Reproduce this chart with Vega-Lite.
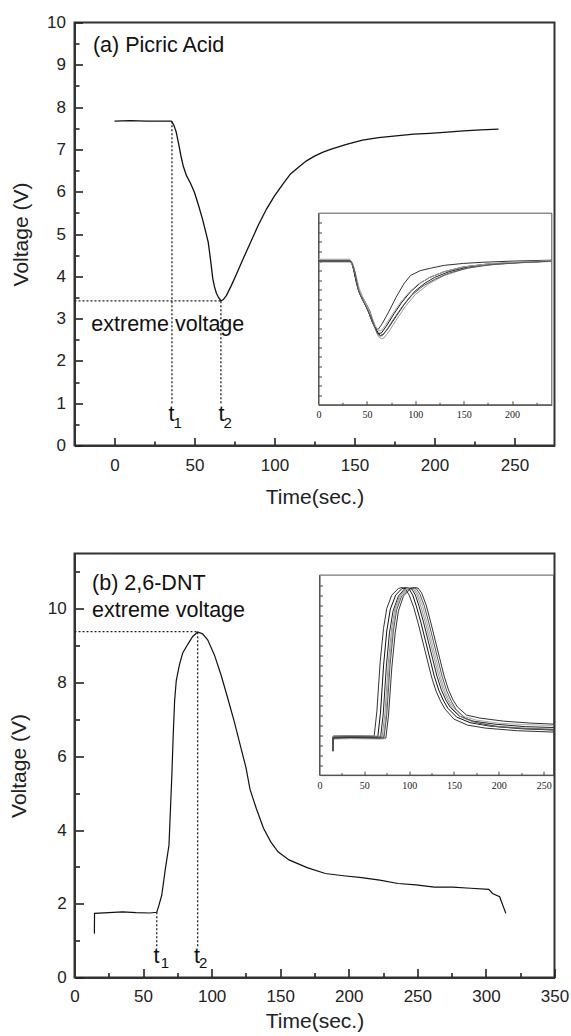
{
  "$schema": "https://vega.github.io/schema/vega-lite/v6.json",
  "background": "white",
  "padding": {"left": 6.5, "top": 12.5, "right": 0, "bottom": 0},
  "bounds": "flush",
  "spacing": 108,
  "config": {
    "font": "Liberation Sans",
    "view": {"stroke": "#333", "strokeWidth": 2},
    "axis": {"grid": false, "labelFont": "Liberation Sans", "titleFont": "Liberation Sans", "titleFontWeight": "normal", "labelOverlap": false, "labelFlush": false}
  },
  "datasets": {
    "mainA": [
      {"t":0,"v":7.67},{"t":10,"v":7.68},{"t":20,"v":7.67},{"t":30,"v":7.67},{"t":35.5,"v":7.67},{"t":37,"v":7.58},{"t":38.5,"v":7.42},{"t":40,"v":7.15},{"t":41.5,"v":6.85},{"t":43,"v":6.6},{"t":45,"v":6.38},{"t":47.5,"v":6.2},{"t":50,"v":5.98},{"t":52.5,"v":5.68},{"t":55,"v":5.35},{"t":57,"v":5.05},{"t":58.6,"v":4.8},{"t":60,"v":4.4},{"t":61.4,"v":3.95},{"t":62.5,"v":3.75},{"t":63.7,"v":3.6},{"t":65,"v":3.5},{"t":66.5,"v":3.42},{"t":68,"v":3.45},{"t":70,"v":3.55},{"t":73,"v":3.78},{"t":76,"v":4.03},{"t":80,"v":4.38},{"t":85,"v":4.8},{"t":90,"v":5.22},{"t":95,"v":5.59},{"t":100,"v":5.9},{"t":105,"v":6.17},{"t":110,"v":6.42},{"t":115,"v":6.58},{"t":120,"v":6.73},{"t":125,"v":6.84},{"t":130,"v":6.93},{"t":135,"v":7.0},{"t":145,"v":7.12},{"t":155,"v":7.22},{"t":165,"v":7.28},{"t":176,"v":7.32},{"t":187,"v":7.36},{"t":197,"v":7.38},{"t":208,"v":7.41},{"t":218,"v":7.44},{"t":229,"v":7.46},{"t":240,"v":7.48}
    ],
    "mainB": [
      {"t":14.5,"v":1.19},{"t":14.6,"v":1.74},{"t":25,"v":1.76},{"t":35,"v":1.78},{"t":45,"v":1.76},{"t":55,"v":1.75},{"t":60,"v":1.77},{"t":61.5,"v":1.95},{"t":63.6,"v":2.23},{"t":66.3,"v":2.96},{"t":68.9,"v":3.59},{"t":70,"v":4.6},{"t":71,"v":5.5},{"t":72,"v":6.6},{"t":73,"v":7.5},{"t":74.2,"v":8.05},{"t":76.5,"v":8.48},{"t":78.9,"v":8.8},{"t":82.5,"v":9.03},{"t":86.2,"v":9.25},{"t":89.8,"v":9.37},{"t":93.4,"v":9.32},{"t":97.1,"v":9.16},{"t":102,"v":8.75},{"t":106.8,"v":8.21},{"t":111.7,"v":7.58},{"t":116.5,"v":6.94},{"t":121.4,"v":6.22},{"t":125,"v":5.7},{"t":128,"v":5.1},{"t":132.5,"v":4.59},{"t":137.8,"v":4.05},{"t":143.1,"v":3.68},{"t":148.4,"v":3.41},{"t":156.4,"v":3.19},{"t":169.6,"v":2.98},{"t":182.9,"v":2.82},{"t":196.1,"v":2.76},{"t":209.4,"v":2.71},{"t":222.6,"v":2.64},{"t":235.9,"v":2.55},{"t":249.1,"v":2.51},{"t":262.4,"v":2.45},{"t":275.6,"v":2.45},{"t":288.9,"v":2.42},{"t":302.1,"v":2.39},{"t":304.8,"v":2.28},{"t":310,"v":2.19},{"t":314.5,"v":1.74}
    ],
    "rulesA": [
      {"t":35.9,"t2":35.9,"v":1.0,"v2":7.67},
      {"t":66.5,"t2":66.5,"v":1.0,"v2":3.42},
      {"t":-25,"t2":66.5,"v":3.42,"v2":3.42}
    ],
    "rulesB": [
      {"t":60,"t2":60,"v":0.85,"v2":1.77},
      {"t":89.8,"t2":89.8,"v":0.85,"v2":9.37},
      {"t":0,"t2":89.8,"v":9.38,"v2":9.38}
    ],
    "labA": [
      {"t":-13.5,"v":9.31,"s":"(a) Picric Acid"},
      {"t":-14.5,"v":2.7,"s":"extreme voltage"},
      {"t":33.8,"v":0.59,"s":"t"},
      {"t":65.0,"v":0.59,"s":"t"}
    ],
    "subA": [
      {"t":36.9,"v":0.41,"s":"1"},
      {"t":68.1,"v":0.41,"s":"2"}
    ],
    "labB": [
      {"t":12.8,"v":10.52,"s":"(b) 2,6-DNT"},
      {"t":12.8,"v":9.79,"s":"extreme voltage"},
      {"t":57.6,"v":0.39,"s":"t"},
      {"t":87.2,"v":0.39,"s":"t"}
    ],
    "subB": [
      {"t":62.9,"v":0.25,"s":"1"},
      {"t":90.8,"v":0.25,"s":"2"}
    ],
    "frameA": [{"t":0,"t2":241,"v":0,"v2":10}],
    "frameB": [{"t":0,"t2":261,"v":0,"v2":10}],
    "insetA": [
      {"r":"a1","t":0,"v":7.55},{"r":"a1","t":32,"v":7.55},{"r":"a1","t":34,"v":7.45},{"r":"a1","t":36,"v":7.1},{"r":"a1","t":39,"v":6.4},{"r":"a1","t":42,"v":5.85},{"r":"a1","t":46,"v":5.45},{"r":"a1","t":51,"v":4.95},{"r":"a1","t":56,"v":4.25},{"r":"a1","t":60,"v":3.95},{"r":"a1","t":62,"v":3.95},{"r":"a1","t":66,"v":4.25},{"r":"a1","t":72,"v":4.8},{"r":"a1","t":80,"v":5.6},{"r":"a1","t":88,"v":6.3},{"r":"a1","t":95,"v":6.75},{"r":"a1","t":105,"v":7.0},{"r":"a1","t":115,"v":7.12},{"r":"a1","t":130,"v":7.28},{"r":"a1","t":150,"v":7.38},{"r":"a1","t":170,"v":7.44},{"r":"a1","t":200,"v":7.5},{"r":"a1","t":241,"v":7.55},
      {"r":"a2","t":0,"v":7.5},{"r":"a2","t":33,"v":7.5},{"r":"a2","t":35,"v":7.35},{"r":"a2","t":37,"v":7.0},{"r":"a2","t":40,"v":6.3},{"r":"a2","t":43,"v":5.75},{"r":"a2","t":47,"v":5.35},{"r":"a2","t":52,"v":4.8},{"r":"a2","t":57,"v":4.15},{"r":"a2","t":60,"v":3.9},{"r":"a2","t":62,"v":3.72},{"r":"a2","t":65,"v":3.75},{"r":"a2","t":70,"v":4.1},{"r":"a2","t":78,"v":4.75},{"r":"a2","t":86,"v":5.35},{"r":"a2","t":95,"v":5.9},{"r":"a2","t":105,"v":6.35},{"r":"a2","t":115,"v":6.65},{"r":"a2","t":130,"v":6.95},{"r":"a2","t":150,"v":7.2},{"r":"a2","t":175,"v":7.35},{"r":"a2","t":200,"v":7.42},{"r":"a2","t":241,"v":7.5},
      {"r":"a3","t":0,"v":7.48},{"r":"a3","t":33,"v":7.48},{"r":"a3","t":35,"v":7.3},{"r":"a3","t":37,"v":6.9},{"r":"a3","t":40,"v":6.2},{"r":"a3","t":44,"v":5.7},{"r":"a3","t":48,"v":5.4},{"r":"a3","t":53,"v":4.9},{"r":"a3","t":58,"v":4.1},{"r":"a3","t":61,"v":3.75},{"r":"a3","t":64,"v":3.62},{"r":"a3","t":67,"v":3.68},{"r":"a3","t":72,"v":4.0},{"r":"a3","t":80,"v":4.6},{"r":"a3","t":90,"v":5.35},{"r":"a3","t":100,"v":5.95},{"r":"a3","t":110,"v":6.35},{"r":"a3","t":120,"v":6.65},{"r":"a3","t":135,"v":6.95},{"r":"a3","t":155,"v":7.2},{"r":"a3","t":180,"v":7.35},{"r":"a3","t":210,"v":7.43},{"r":"a3","t":241,"v":7.5},
      {"r":"a4","t":0,"v":7.45},{"r":"a4","t":33,"v":7.45},{"r":"a4","t":35.5,"v":7.25},{"r":"a4","t":38,"v":6.8},{"r":"a4","t":41,"v":6.1},{"r":"a4","t":45,"v":5.55},{"r":"a4","t":49,"v":5.2},{"r":"a4","t":54,"v":4.6},{"r":"a4","t":59,"v":3.9},{"r":"a4","t":62,"v":3.55},{"r":"a4","t":65,"v":3.45},{"r":"a4","t":68,"v":3.5},{"r":"a4","t":73,"v":3.85},{"r":"a4","t":80,"v":4.4},{"r":"a4","t":90,"v":5.15},{"r":"a4","t":100,"v":5.75},{"r":"a4","t":115,"v":6.35},{"r":"a4","t":130,"v":6.75},{"r":"a4","t":150,"v":7.08},{"r":"a4","t":170,"v":7.27},{"r":"a4","t":200,"v":7.4},{"r":"a4","t":241,"v":7.48},
      {"r":"a5","t":0,"v":7.6},{"r":"a5","t":32,"v":7.6},{"r":"a5","t":34,"v":7.5},{"r":"a5","t":36.5,"v":7.2},{"r":"a5","t":39,"v":6.7},{"r":"a5","t":42,"v":6.1},{"r":"a5","t":46,"v":5.6},{"r":"a5","t":50,"v":5.2},{"r":"a5","t":55,"v":4.6},{"r":"a5","t":59,"v":4.1},{"r":"a5","t":62,"v":3.85},{"r":"a5","t":65,"v":3.88},{"r":"a5","t":69,"v":4.15},{"r":"a5","t":76,"v":4.7},{"r":"a5","t":84,"v":5.3},{"r":"a5","t":93,"v":5.85},{"r":"a5","t":103,"v":6.3},{"r":"a5","t":115,"v":6.65},{"r":"a5","t":130,"v":6.95},{"r":"a5","t":150,"v":7.2},{"r":"a5","t":180,"v":7.38},{"r":"a5","t":241,"v":7.53},
      {"r":"a6","t":0,"v":7.52},{"r":"a6","t":33,"v":7.52},{"r":"a6","t":35,"v":7.38},{"r":"a6","t":38,"v":6.85},{"r":"a6","t":41,"v":6.0},{"r":"a6","t":45,"v":5.5},{"r":"a6","t":49,"v":5.15},{"r":"a6","t":54,"v":4.6},{"r":"a6","t":58,"v":4.05},{"r":"a6","t":61,"v":3.7},{"r":"a6","t":63.5,"v":3.58},{"r":"a6","t":66,"v":3.62},{"r":"a6","t":71,"v":3.95},{"r":"a6","t":78,"v":4.5},{"r":"a6","t":87,"v":5.15},{"r":"a6","t":97,"v":5.75},{"r":"a6","t":108,"v":6.2},{"r":"a6","t":120,"v":6.55},{"r":"a6","t":135,"v":6.88},{"r":"a6","t":155,"v":7.15},{"r":"a6","t":180,"v":7.32},{"r":"a6","t":210,"v":7.42},{"r":"a6","t":241,"v":7.5}
    ],
    "insetB": [
      {"r":"b1","t":15,"v":1.2},{"r":"b1","t":15.2,"v":1.95},{"r":"b1","t":35,"v":1.98},{"r":"b1","t":61,"v":1.95},{"r":"b1","t":64,"v":3.2},{"r":"b1","t":67.7,"v":5.67},{"r":"b1","t":71.4,"v":7.33},{"r":"b1","t":75,"v":8.33},{"r":"b1","t":80.6,"v":9.0},{"r":"b1","t":88,"v":9.33},{"r":"b1","t":92,"v":9.38},{"r":"b1","t":96,"v":9.3},{"r":"b1","t":100,"v":9.0},{"r":"b1","t":105,"v":8.4},{"r":"b1","t":110,"v":7.6},{"r":"b1","t":115,"v":6.7},{"r":"b1","t":120,"v":5.8},{"r":"b1","t":125,"v":4.9},{"r":"b1","t":130,"v":4.2},{"r":"b1","t":135,"v":3.7},{"r":"b1","t":140,"v":3.3},{"r":"b1","t":150,"v":2.8},{"r":"b1","t":165,"v":2.5},{"r":"b1","t":185,"v":2.35},{"r":"b1","t":220,"v":2.22},{"r":"b1","t":261,"v":2.15},
      {"r":"b2","t":15,"v":1.2},{"r":"b2","t":15.2,"v":1.9},{"r":"b2","t":35,"v":1.92},{"r":"b2","t":65,"v":1.9},{"r":"b2","t":68,"v":3.1},{"r":"b2","t":71.5,"v":5.5},{"r":"b2","t":75,"v":7.2},{"r":"b2","t":79,"v":8.3},{"r":"b2","t":85,"v":9.0},{"r":"b2","t":92,"v":9.33},{"r":"b2","t":96,"v":9.38},{"r":"b2","t":100,"v":9.3},{"r":"b2","t":104,"v":9.0},{"r":"b2","t":108,"v":8.45},{"r":"b2","t":113,"v":7.65},{"r":"b2","t":118,"v":6.75},{"r":"b2","t":123,"v":5.85},{"r":"b2","t":128,"v":4.95},{"r":"b2","t":133,"v":4.25},{"r":"b2","t":138,"v":3.75},{"r":"b2","t":143,"v":3.35},{"r":"b2","t":153,"v":2.9},{"r":"b2","t":168,"v":2.62},{"r":"b2","t":190,"v":2.45},{"r":"b2","t":225,"v":2.32},{"r":"b2","t":261,"v":2.25},
      {"r":"b3","t":15,"v":1.2},{"r":"b3","t":15.2,"v":1.85},{"r":"b3","t":35,"v":1.88},{"r":"b3","t":68,"v":1.85},{"r":"b3","t":71,"v":3.0},{"r":"b3","t":74.5,"v":5.4},{"r":"b3","t":78,"v":7.1},{"r":"b3","t":82,"v":8.2},{"r":"b3","t":88,"v":8.95},{"r":"b3","t":95,"v":9.32},{"r":"b3","t":99,"v":9.38},{"r":"b3","t":103,"v":9.3},{"r":"b3","t":107,"v":9.0},{"r":"b3","t":111,"v":8.45},{"r":"b3","t":116,"v":7.65},{"r":"b3","t":121,"v":6.75},{"r":"b3","t":126,"v":5.85},{"r":"b3","t":131,"v":4.95},{"r":"b3","t":136,"v":4.25},{"r":"b3","t":141,"v":3.75},{"r":"b3","t":146,"v":3.38},{"r":"b3","t":156,"v":2.95},{"r":"b3","t":171,"v":2.7},{"r":"b3","t":195,"v":2.55},{"r":"b3","t":230,"v":2.42},{"r":"b3","t":261,"v":2.38},
      {"r":"b4","t":15,"v":1.2},{"r":"b4","t":15.2,"v":1.95},{"r":"b4","t":35,"v":1.97},{"r":"b4","t":70,"v":1.95},{"r":"b4","t":73,"v":3.1},{"r":"b4","t":76.7,"v":5.6},{"r":"b4","t":80.4,"v":7.3},{"r":"b4","t":84,"v":8.3},{"r":"b4","t":89.6,"v":9.0},{"r":"b4","t":97,"v":9.33},{"r":"b4","t":101,"v":9.38},{"r":"b4","t":105,"v":9.3},{"r":"b4","t":109,"v":9.0},{"r":"b4","t":113,"v":8.45},{"r":"b4","t":118,"v":7.65},{"r":"b4","t":123,"v":6.75},{"r":"b4","t":128,"v":5.85},{"r":"b4","t":133,"v":4.95},{"r":"b4","t":138,"v":4.25},{"r":"b4","t":143,"v":3.75},{"r":"b4","t":148,"v":3.35},{"r":"b4","t":158,"v":2.9},{"r":"b4","t":173,"v":2.62},{"r":"b4","t":195,"v":2.45},{"r":"b4","t":230,"v":2.35},{"r":"b4","t":261,"v":2.3},
      {"r":"b5","t":15,"v":1.2},{"r":"b5","t":15.2,"v":1.8},{"r":"b5","t":35,"v":1.82},{"r":"b5","t":71,"v":1.8},{"r":"b5","t":74,"v":3.0},{"r":"b5","t":77.7,"v":5.5},{"r":"b5","t":81.4,"v":7.25},{"r":"b5","t":85,"v":8.3},{"r":"b5","t":90.6,"v":9.0},{"r":"b5","t":98,"v":9.33},{"r":"b5","t":102,"v":9.38},{"r":"b5","t":106,"v":9.32},{"r":"b5","t":110,"v":9.05},{"r":"b5","t":115,"v":8.45},{"r":"b5","t":120,"v":7.6},{"r":"b5","t":125,"v":6.7},{"r":"b5","t":130,"v":5.8},{"r":"b5","t":135,"v":4.9},{"r":"b5","t":140,"v":4.2},{"r":"b5","t":145,"v":3.7},{"r":"b5","t":150,"v":3.35},{"r":"b5","t":160,"v":2.95},{"r":"b5","t":175,"v":2.75},{"r":"b5","t":200,"v":2.6},{"r":"b5","t":230,"v":2.52},{"r":"b5","t":261,"v":2.48},
      {"r":"b6","t":15,"v":1.2},{"r":"b6","t":15.2,"v":1.9},{"r":"b6","t":35,"v":1.92},{"r":"b6","t":72,"v":1.9},{"r":"b6","t":75,"v":3.0},{"r":"b6","t":78.7,"v":5.5},{"r":"b6","t":82.4,"v":7.2},{"r":"b6","t":86,"v":8.25},{"r":"b6","t":91.6,"v":8.95},{"r":"b6","t":99,"v":9.3},{"r":"b6","t":104,"v":9.38},{"r":"b6","t":108,"v":9.32},{"r":"b6","t":112,"v":9.05},{"r":"b6","t":117,"v":8.45},{"r":"b6","t":122,"v":7.6},{"r":"b6","t":127,"v":6.7},{"r":"b6","t":132,"v":5.8},{"r":"b6","t":137,"v":4.9},{"r":"b6","t":142,"v":4.2},{"r":"b6","t":147,"v":3.7},{"r":"b6","t":152,"v":3.3},{"r":"b6","t":162,"v":2.85},{"r":"b6","t":177,"v":2.6},{"r":"b6","t":200,"v":2.42},{"r":"b6","t":230,"v":2.32},{"r":"b6","t":261,"v":2.28},
      {"r":"b7","t":15,"v":1.2},{"r":"b7","t":15.2,"v":1.85},{"r":"b7","t":35,"v":1.87},{"r":"b7","t":74,"v":1.85},{"r":"b7","t":77,"v":3.0},{"r":"b7","t":80.7,"v":5.4},{"r":"b7","t":84.4,"v":7.1},{"r":"b7","t":88,"v":8.2},{"r":"b7","t":93.6,"v":8.95},{"r":"b7","t":101,"v":9.3},{"r":"b7","t":106,"v":9.38},{"r":"b7","t":110,"v":9.35},{"r":"b7","t":114,"v":9.1},{"r":"b7","t":119,"v":8.5},{"r":"b7","t":124,"v":7.65},{"r":"b7","t":129,"v":6.75},{"r":"b7","t":134,"v":5.85},{"r":"b7","t":139,"v":4.95},{"r":"b7","t":144,"v":4.25},{"r":"b7","t":149,"v":3.75},{"r":"b7","t":154,"v":3.4},{"r":"b7","t":164,"v":3.0},{"r":"b7","t":179,"v":2.85},{"r":"b7","t":205,"v":2.7},{"r":"b7","t":235,"v":2.6},{"r":"b7","t":261,"v":2.55}
    ]
  },
  "vconcat": [
    {
      "width": 480,
      "height": 423,
      "resolve": {"scale": {"x": "independent", "y": "independent"}},
      "layer": [
        {
          "encoding": {
            "x": {"field": "t", "type": "quantitative",
              "scale": {"domain": [-25, 275], "nice": false, "zero": false},
              "axis": {"title": "Time(sec.)", "orient": "bottom", "values": [0,25,50,75,100,125,150,175,200,225,250],
                "labelExpr": "datum.value % 50 === 0 ? format(datum.value, 'd') : ''",
                "ticks": true, "tickSize": {"condition": {"test": "datum.value % 50 === 0", "value": -8}, "value": -4.5},
                "tickColor": "#222", "tickWidth": 1.6,
                "labelPadding": 20, "titlePadding": 9.5, "labelFontSize": 17, "titleFontSize": 21,
                "domainWidth": 2, "domainColor": "#333", "labelColor": "#222", "titleColor": "#222", "grid": false}},
            "y": {"field": "v", "type": "quantitative",
              "scale": {"domain": [0, 10], "nice": false, "zero": false},
              "axis": {"title": "Voltage (V)", "orient": "left", "values": [0,0.5,1,1.5,2,2.5,3,3.5,4,4.5,5,5.5,6,6.5,7,7.5,8,8.5,9,9.5,10],
                "labelExpr": "datum.value % 1 === 0 ? format(datum.value, 'd') : ''",
                "ticks": true, "tickSize": {"condition": {"test": "datum.value % 1 === 0", "value": -8}, "value": -4.5},
                "tickColor": "#222", "tickWidth": 1.6,
                "labelPadding": 17, "titlePadding": 15.5, "labelFontSize": 17, "titleFontSize": 21,
                "domainWidth": 2, "domainColor": "#333", "labelColor": "#222", "titleColor": "#222", "grid": false}}
          },
          "layer": [
            {"data": {"name": "mainA"}, "mark": {"type": "line", "color": "#111", "strokeWidth": 1.3}},
            {"data": {"name": "rulesA"}, "mark": {"type": "rule", "color": "#222", "strokeWidth": 1.3, "strokeDash": [2, 2]},
              "encoding": {"x2": {"field": "t2"}, "y2": {"field": "v2"}}},
            {"data": {"name": "labA"}, "mark": {"type": "text", "align": "left", "baseline": "alphabetic", "fontSize": 21.5, "color": "#111"},
              "encoding": {"text": {"field": "s"}}},
            {"data": {"name": "subA"}, "mark": {"type": "text", "align": "left", "baseline": "alphabetic", "fontSize": 15, "color": "#111"},
              "encoding": {"text": {"field": "s"}}}
          ]
        },
        {
          "encoding": {
            "x": {"field": "t", "type": "quantitative",
              "scale": {"domain": [0, 241], "range": [244, 477.3], "nice": false, "zero": false},
              "axis": {"orient": "bottom", "offset": -40.7, "title": null, "values": [0,50,100,150,200], "format": "d",
                "ticks": false, "labelPadding": 5, "labelFont": "Liberation Serif", "labelFontSize": 10,
                "domainColor": "#444", "domainWidth": 1, "labelColor": "#222", "grid": false}},
            "y": {"field": "v", "type": "quantitative",
              "scale": {"domain": [0, 10], "range": [382.3, 190.7], "nice": false, "zero": false},
              "axis": {"orient": "left", "offset": -244, "title": null, "labels": false, "ticks": false,
                "domainColor": "#444", "domainWidth": 1, "grid": false}}
          },
          "layer": [
            {"data": {"name": "frameA"}, "mark": {"type": "rect", "fill": "transparent", "stroke": "#555", "strokeWidth": 1},
              "encoding": {"x2": {"field": "t2"}, "y2": {"field": "v2"}}},
            {"data": {"name": "insetA"}, "mark": {"type": "line", "strokeWidth": 1},
              "encoding": {"color": {"field": "r", "type": "nominal", "legend": null,
                "scale": {"range": ["#333", "#111", "#222", "#999", "#aaa", "#555"]}}}}
          ]
        },
        {
          "data": {"name": "frameA"},
          "mark": {"type": "point", "opacity": 0},
          "encoding": {
            "x": {"field": "t", "type": "quantitative",
              "scale": {"domain": [0, 241], "range": [244, 477.3], "nice": false, "zero": false},
              "axis": {"orient": "top", "offset": -382.3, "title": null, "values": [25,50,75,100,125,150,175,200,225],
                "tickSize": {"condition": {"test": "datum.value % 50 === 0", "value": 4}, "value": 2.5},
                "labels": false, "domain": false, "tickColor": "#444", "tickWidth": 1, "grid": false}},
            "y": {"field": "v", "type": "quantitative",
              "scale": {"domain": [0, 10], "range": [382.3, 190.7], "nice": false, "zero": false},
              "axis": {"orient": "right", "offset": -236, "title": null, "labels": false, "domain": false,
                "values": [0.5,1,1.5,2,2.5,3,3.5,4,4.5,5,5.5,6,6.5,7,7.5,8,8.5,9,9.5],
                "tickSize": 3, "tickColor": "#444", "tickWidth": 1, "grid": false}}
          }
        }
      ]
    },
    {
      "width": 480,
      "height": 424,
      "resolve": {"scale": {"x": "independent", "y": "independent"}},
      "layer": [
        {
          "encoding": {
            "x": {"field": "t", "type": "quantitative",
              "scale": {"domain": [0, 350], "nice": false, "zero": false},
              "axis": {"title": "Time(sec.)", "orient": "bottom", "values": [0,25,50,75,100,125,150,175,200,225,250,275,300,325,350],
                "labelExpr": "datum.value % 50 === 0 ? format(datum.value, 'd') : ''",
                "ticks": true, "tickSize": {"condition": {"test": "datum.value % 50 === 0", "value": -9}, "value": -5},
                "tickColor": "#222", "tickWidth": 1.6,
                "labelPadding": 20, "titlePadding": 2, "labelFontSize": 17, "titleFontSize": 21,
                "domainWidth": 2, "domainColor": "#333", "labelColor": "#222", "titleColor": "#222", "grid": false}},
            "y": {"field": "v", "type": "quantitative",
              "scale": {"domain": [0, 11.5], "nice": false, "zero": false},
              "axis": {"title": "Voltage (V)", "orient": "left", "values": [0,1,2,3,4,5,6,7,8,9,10,11],
                "labelExpr": "datum.value % 2 === 0 ? format(datum.value, 'd') : ''",
                "ticks": true, "tickSize": {"condition": {"test": "datum.value % 2 === 0", "value": -9}, "value": -5},
                "tickColor": "#222", "tickWidth": 1.6,
                "labelPadding": 17.4, "titlePadding": 18, "labelFontSize": 17, "titleFontSize": 21,
                "domainWidth": 2, "domainColor": "#333", "labelColor": "#222", "titleColor": "#222", "grid": false}}
          },
          "layer": [
            {"data": {"name": "mainB"}, "mark": {"type": "line", "color": "#111", "strokeWidth": 1.2}},
            {"data": {"name": "rulesB"}, "mark": {"type": "rule", "color": "#222", "strokeWidth": 1.3, "strokeDash": [2, 2]},
              "encoding": {"x2": {"field": "t2"}, "y2": {"field": "v2"}}},
            {"data": {"name": "labB"}, "mark": {"type": "text", "align": "left", "baseline": "alphabetic", "fontSize": 21.5, "color": "#111"},
              "encoding": {"text": {"field": "s"}}},
            {"data": {"name": "subB"}, "mark": {"type": "text", "align": "left", "baseline": "alphabetic", "fontSize": 15, "color": "#111"},
              "encoding": {"text": {"field": "s"}}}
          ]
        },
        {
          "encoding": {
            "x": {"field": "t", "type": "quantitative",
              "scale": {"domain": [0, 261], "range": [245, 479], "nice": false, "zero": false},
              "axis": {"orient": "bottom", "offset": -202.4, "title": null, "values": [0,50,100,150,200,250], "format": "d",
                "ticks": false, "labelPadding": 5, "labelFont": "Liberation Serif", "labelFontSize": 10,
                "domainColor": "#444", "domainWidth": 1, "labelColor": "#222", "grid": false}},
            "y": {"field": "v", "type": "quantitative",
              "scale": {"domain": [0, 10], "range": [221.6, 21.6], "nice": false, "zero": false},
              "axis": {"orient": "left", "offset": -245, "title": null, "labels": false, "ticks": false,
                "domainColor": "#444", "domainWidth": 1, "grid": false}}
          },
          "layer": [
            {"data": {"name": "frameB"}, "mark": {"type": "rect", "fill": "transparent", "stroke": "#555", "strokeWidth": 1},
              "encoding": {"x2": {"field": "t2"}, "y2": {"field": "v2"}}},
            {"data": {"name": "insetB"}, "mark": {"type": "line", "strokeWidth": 1},
              "encoding": {"color": {"field": "r", "type": "nominal", "legend": null,
                "scale": {"range": ["#222", "#999", "#444", "#111", "#888", "#333", "#555"]}}}}
          ]
        },
        {
          "data": {"name": "frameB"},
          "mark": {"type": "point", "opacity": 0},
          "encoding": {
            "x": {"field": "t", "type": "quantitative",
              "scale": {"domain": [0, 261], "range": [245, 479], "nice": false, "zero": false},
              "axis": {"orient": "top", "offset": -221.6, "title": null, "values": [25,50,75,100,125,150,175,200,225,250],
                "tickSize": {"condition": {"test": "datum.value % 50 === 0", "value": 4}, "value": 2.5},
                "labels": false, "domain": false, "tickColor": "#444", "tickWidth": 1, "grid": false}},
            "y": {"field": "v", "type": "quantitative",
              "scale": {"domain": [0, 10], "range": [221.6, 21.6], "nice": false, "zero": false},
              "axis": {"orient": "right", "offset": -235, "title": null, "labels": false, "domain": false,
                "values": [0.5,1,1.5,2,2.5,3,3.5,4,4.5,5,5.5,6,6.5,7,7.5,8,8.5,9,9.5],
                "tickSize": 3, "tickColor": "#444", "tickWidth": 1, "grid": false}}
          }
        }
      ]
    }
  ]
}
